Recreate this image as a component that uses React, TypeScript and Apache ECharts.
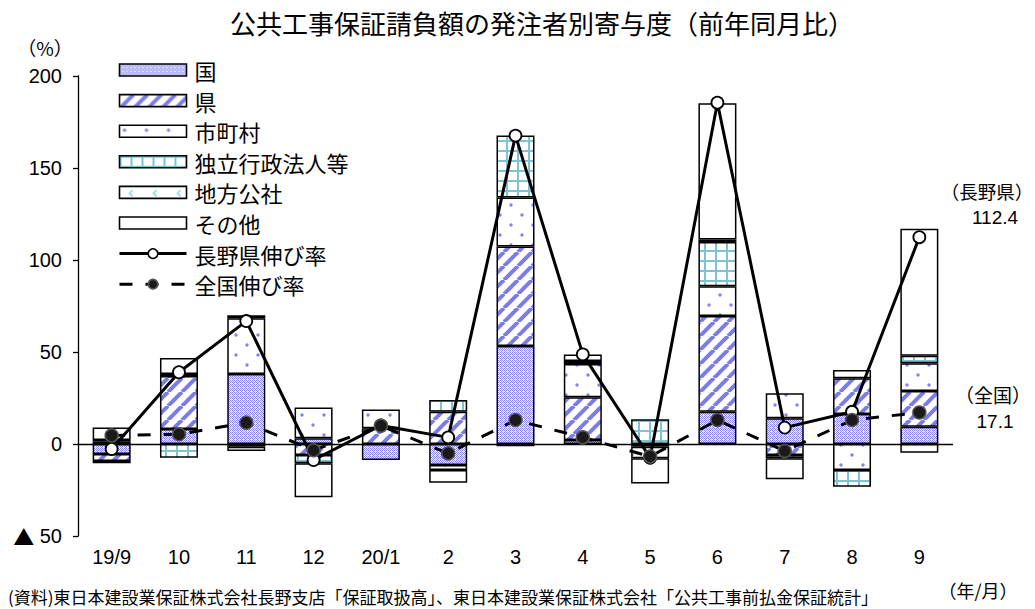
import React, { useEffect, useRef } from 'react';
import * as echarts from 'echarts';

const categories = ['19/9', '10', '11', '12', '20/1', '2', '3', '4', '5', '6', '7', '8', '9'];
const kuni = [-5.4, 8.2, 38, 3.1, -8.7, -11.4, 53.3, 2.2, -1.5, 17.5, 14, 16.3, 9.4];
const ken = [-3.8, 28.8, -1.5, -6, 8.5, 17.5, 54, 23.2, null, 52, -6, 19.4, 19.4];
const shichoson = [1.2, 1.0, 30.4, 16.8, 10.3, -2.7, 26.6, 18.1, -6.3, 16.3, 13.6, -14.1, 15.1];
const dokuritsu = [1.0, -7.5, 1.6, -4.5, null, 6.4, 33.7, 1.6, 13.4, 24, -1.8, -9.1, 4.1];
const chihoKosha = [6.7, null, null, null, null, null, null, null, null, 1.4, null, null, -4.7];
const sonota = [-1.3, 8.7, -2.3, -18.5, null, -6.9, -1.2, 3.6, -13.6, 74, -11.4, 4.5, 69];
const naganoRate = [-2.7, 39, 66.8, -8.7, 10.1, 3.6, 167.6, 48.7, -7.5, 185.5, 8.9, 17.5, 112.4];
const nationalRate = [4.6, 5.3, 11.6, -3.4, 9.9, -5.1, 13, 3.6, -6.8, 13, -3.8, 13, 17.1];
const yMin = -50;
const yMax = 200;
const yStep = 50;

const CJK = '"Noto Sans CJK JP", sans-serif';
const NUM = '"Liberation Sans", "Noto Sans CJK JP", sans-serif';

function tile(w: number, h: number, draw: (ctx: CanvasRenderingContext2D) => void) {
  const c = document.createElement('canvas');
  c.width = w;
  c.height = h;
  const ctx = c.getContext('2d') as CanvasRenderingContext2D;
  ctx.fillStyle = '#ffffff';
  ctx.fillRect(0, 0, w, h);
  draw(ctx);
  return { image: c.toDataURL(), imageWidth: w, imageHeight: h, repeat: 'repeat' } as any;
}

function makePatterns() {
  const kuniP = tile(4, 4, (ctx) => {
    ctx.fillStyle = '#f2f2fe';
    ctx.fillRect(0, 0, 4, 4);
    ctx.fillStyle = '#8686ea';
    ctx.fillRect(0, 0, 1, 1);
    ctx.fillRect(2, 0, 1, 1);
    ctx.fillRect(1, 1, 1, 1);
    ctx.fillRect(3, 1, 1, 1);
    ctx.fillRect(0, 2, 1, 1);
    ctx.fillRect(2, 2, 1, 1);
    ctx.fillRect(1, 3, 1, 1);
    ctx.fillStyle = '#c4c4f4';
    ctx.fillRect(3, 3, 1, 1);
  });
  const kenP = tile(14, 14, (ctx) => {
    ctx.strokeStyle = '#7c7ce8';
    ctx.lineWidth = 4;
    for (const k of [-14, 0, 14]) {
      ctx.beginPath();
      ctx.moveTo(k, 14);
      ctx.lineTo(k + 14, 0);
      ctx.stroke();
    }
  });
  const shiP = tile(22, 20, (ctx) => {
    ctx.fillStyle = '#8282f0';
    for (const [x, y] of [[5, 5], [16, 15]]) {
      ctx.beginPath();
      ctx.arc(x, y, 1.7, 0, Math.PI * 2);
      ctx.fill();
    }
  });
  const dokP = tile(11, 10, (ctx) => {
    ctx.fillStyle = '#7cc4d4';
    ctx.fillRect(0, 0, 2, 10);
    ctx.fillRect(0, 0, 11, 2);
  });
  const chiP = tile(24, 14, (ctx) => {
    ctx.strokeStyle = '#7cc8d8';
    ctx.lineWidth = 1.4;
    ctx.beginPath();
    ctx.moveTo(13, 4);
    ctx.lineTo(10, 7);
    ctx.lineTo(13, 10);
    ctx.stroke();
  });
  return { kuniP, kenP, shiP, dokP, chiP };
}

export default function App() {
  const ref = useRef<HTMLDivElement>(null);

  useEffect(() => {
    if (!ref.current) return;
    const chart = echarts.init(ref.current, undefined, { renderer: 'svg' });
    const p = makePatterns();

    const barBase = (name: string, data: (number | null)[], color: any, withZero = false) => {
      const s: any = {
        name,
        type: 'bar',
        stack: 'total',
        barWidth: 38,
        data,
        itemStyle: { color, borderColor: '#000', borderWidth: 1.5 },
        emphasis: { disabled: true },
        z: 2,
      };
      if (withZero) {
        s.markLine = {
          silent: true,
          symbol: 'none',
          label: { show: false },
          lineStyle: { color: '#000', width: 1.3, type: 'solid' },
          data: [{ yAxis: 0 }],
          z: 1,
        };
      }
      return s;
    };

    const txt = (text: string, x: number, y: number, fontSize: number, fontFamily: string, align = 'center') => ({
      type: 'text',
      x,
      y,
      style: { text, fontSize, fontFamily, fill: '#000', align, verticalAlign: 'middle' },
    });

    const option: any = {
      animation: false,
      textStyle: { fontFamily: CJK },
      grid: { left: 78, right: 82, top: 76, bottom: 73, containLabel: false },
      legend: {
        orient: 'vertical',
        left: 118,
        top: 59,
        padding: 0,
        itemWidth: 67,
        itemHeight: 12,
        itemGap: 8.6,
        selectedMode: false,
        textStyle: { fontSize: 22, lineHeight: 22, color: '#000', fontFamily: CJK, padding: [0, 0, 0, 3] },
        itemStyle: { borderWidth: 1.6 },
        data: [
          { name: '国', icon: 'rect' },
          { name: '県', icon: 'rect' },
          { name: '市町村', icon: 'rect' },
          { name: '独立行政法人等', icon: 'rect' },
          { name: '地方公社', icon: 'rect' },
          { name: 'その他', icon: 'rect' },
          { name: '長野県伸び率', lineStyle: { width: 3 } },
          { name: '全国伸び率', lineStyle: { width: 3 } },
        ],
      },
      xAxis: {
        type: 'category',
        data: categories,
        axisLine: { show: false, onZero: false },
        axisTick: { show: false },
        axisLabel: { color: '#000', fontSize: 20, margin: 11, fontFamily: NUM },
        splitLine: { show: false },
      },
      yAxis: {
        type: 'value',
        min: yMin,
        max: yMax,
        interval: yStep,
        axisLine: { show: true, lineStyle: { color: '#000', width: 1.3 } },
        axisTick: { show: true, inside: false, length: 5, lineStyle: { color: '#000', width: 1.3 } },
        axisLabel: {
          color: '#000',
          fontSize: 20,
          margin: 16,
          fontFamily: NUM,
          formatter: (v: number) => (v < 0 ? '{tri|▲} ' + Math.abs(v) : String(v)),
          rich: {
            tri: { fontFamily: CJK, fontSize: 21, color: '#000' },
          },
        },
        splitLine: { show: false },
      },
      series: [
        barBase('国', kuni, p.kuniP, true),
        barBase('県', ken, p.kenP),
        barBase('市町村', shichoson, p.shiP),
        barBase('独立行政法人等', dokuritsu, p.dokP),
        barBase('地方公社', chihoKosha, p.chiP),
        barBase('その他', sonota, '#ffffff'),
        {
          name: '長野県伸び率',
          type: 'line',
          data: naganoRate,
          z: 10,
          symbol: 'circle',
          symbolSize: 12,
          lineStyle: { color: '#000', width: 3 },
          itemStyle: { color: '#fff', borderColor: '#000', borderWidth: 1.8 },
          emphasis: { disabled: true },
        },
        {
          name: '全国伸び率',
          type: 'line',
          data: nationalRate,
          z: 11,
          symbol: 'circle',
          symbolSize: 13,
          lineStyle: { color: '#000', width: 3, type: [13, 13] },
          itemStyle: { color: '#1a1a1a', borderColor: '#555', borderWidth: 1.5 },
          emphasis: { disabled: true },
        },
      ],
      graphic: [
        txt('公共工事保証請負額の発注者別寄与度（前年同月比）', 542, 22, 26, CJK),
        txt('（%）', 45, 47, 19, CJK),
        txt('（長野県）', 987, 191, 18.5, CJK),
        txt('112.4', 995, 217, 19, NUM),
        txt('（全国）', 993, 394, 19, CJK),
        txt('17.1', 995, 421, 19, NUM),
        txt('（年/月）', 978, 590, 18, CJK),
        txt('(資料)東日本建設業保証株式会社長野支店「保証取扱高」、東日本建設業保証株式会社「公共工事前払金保証統計」', 8, 596, 17, CJK, 'left'),
      ],
    };

    chart.setOption(option);
    return () => chart.dispose();
  }, []);

  return (
    <div
      ref={ref}
      style={{ position: 'fixed', left: 0, top: 0, width: 1035, height: 609, background: '#fff' }}
    />
  );
}
